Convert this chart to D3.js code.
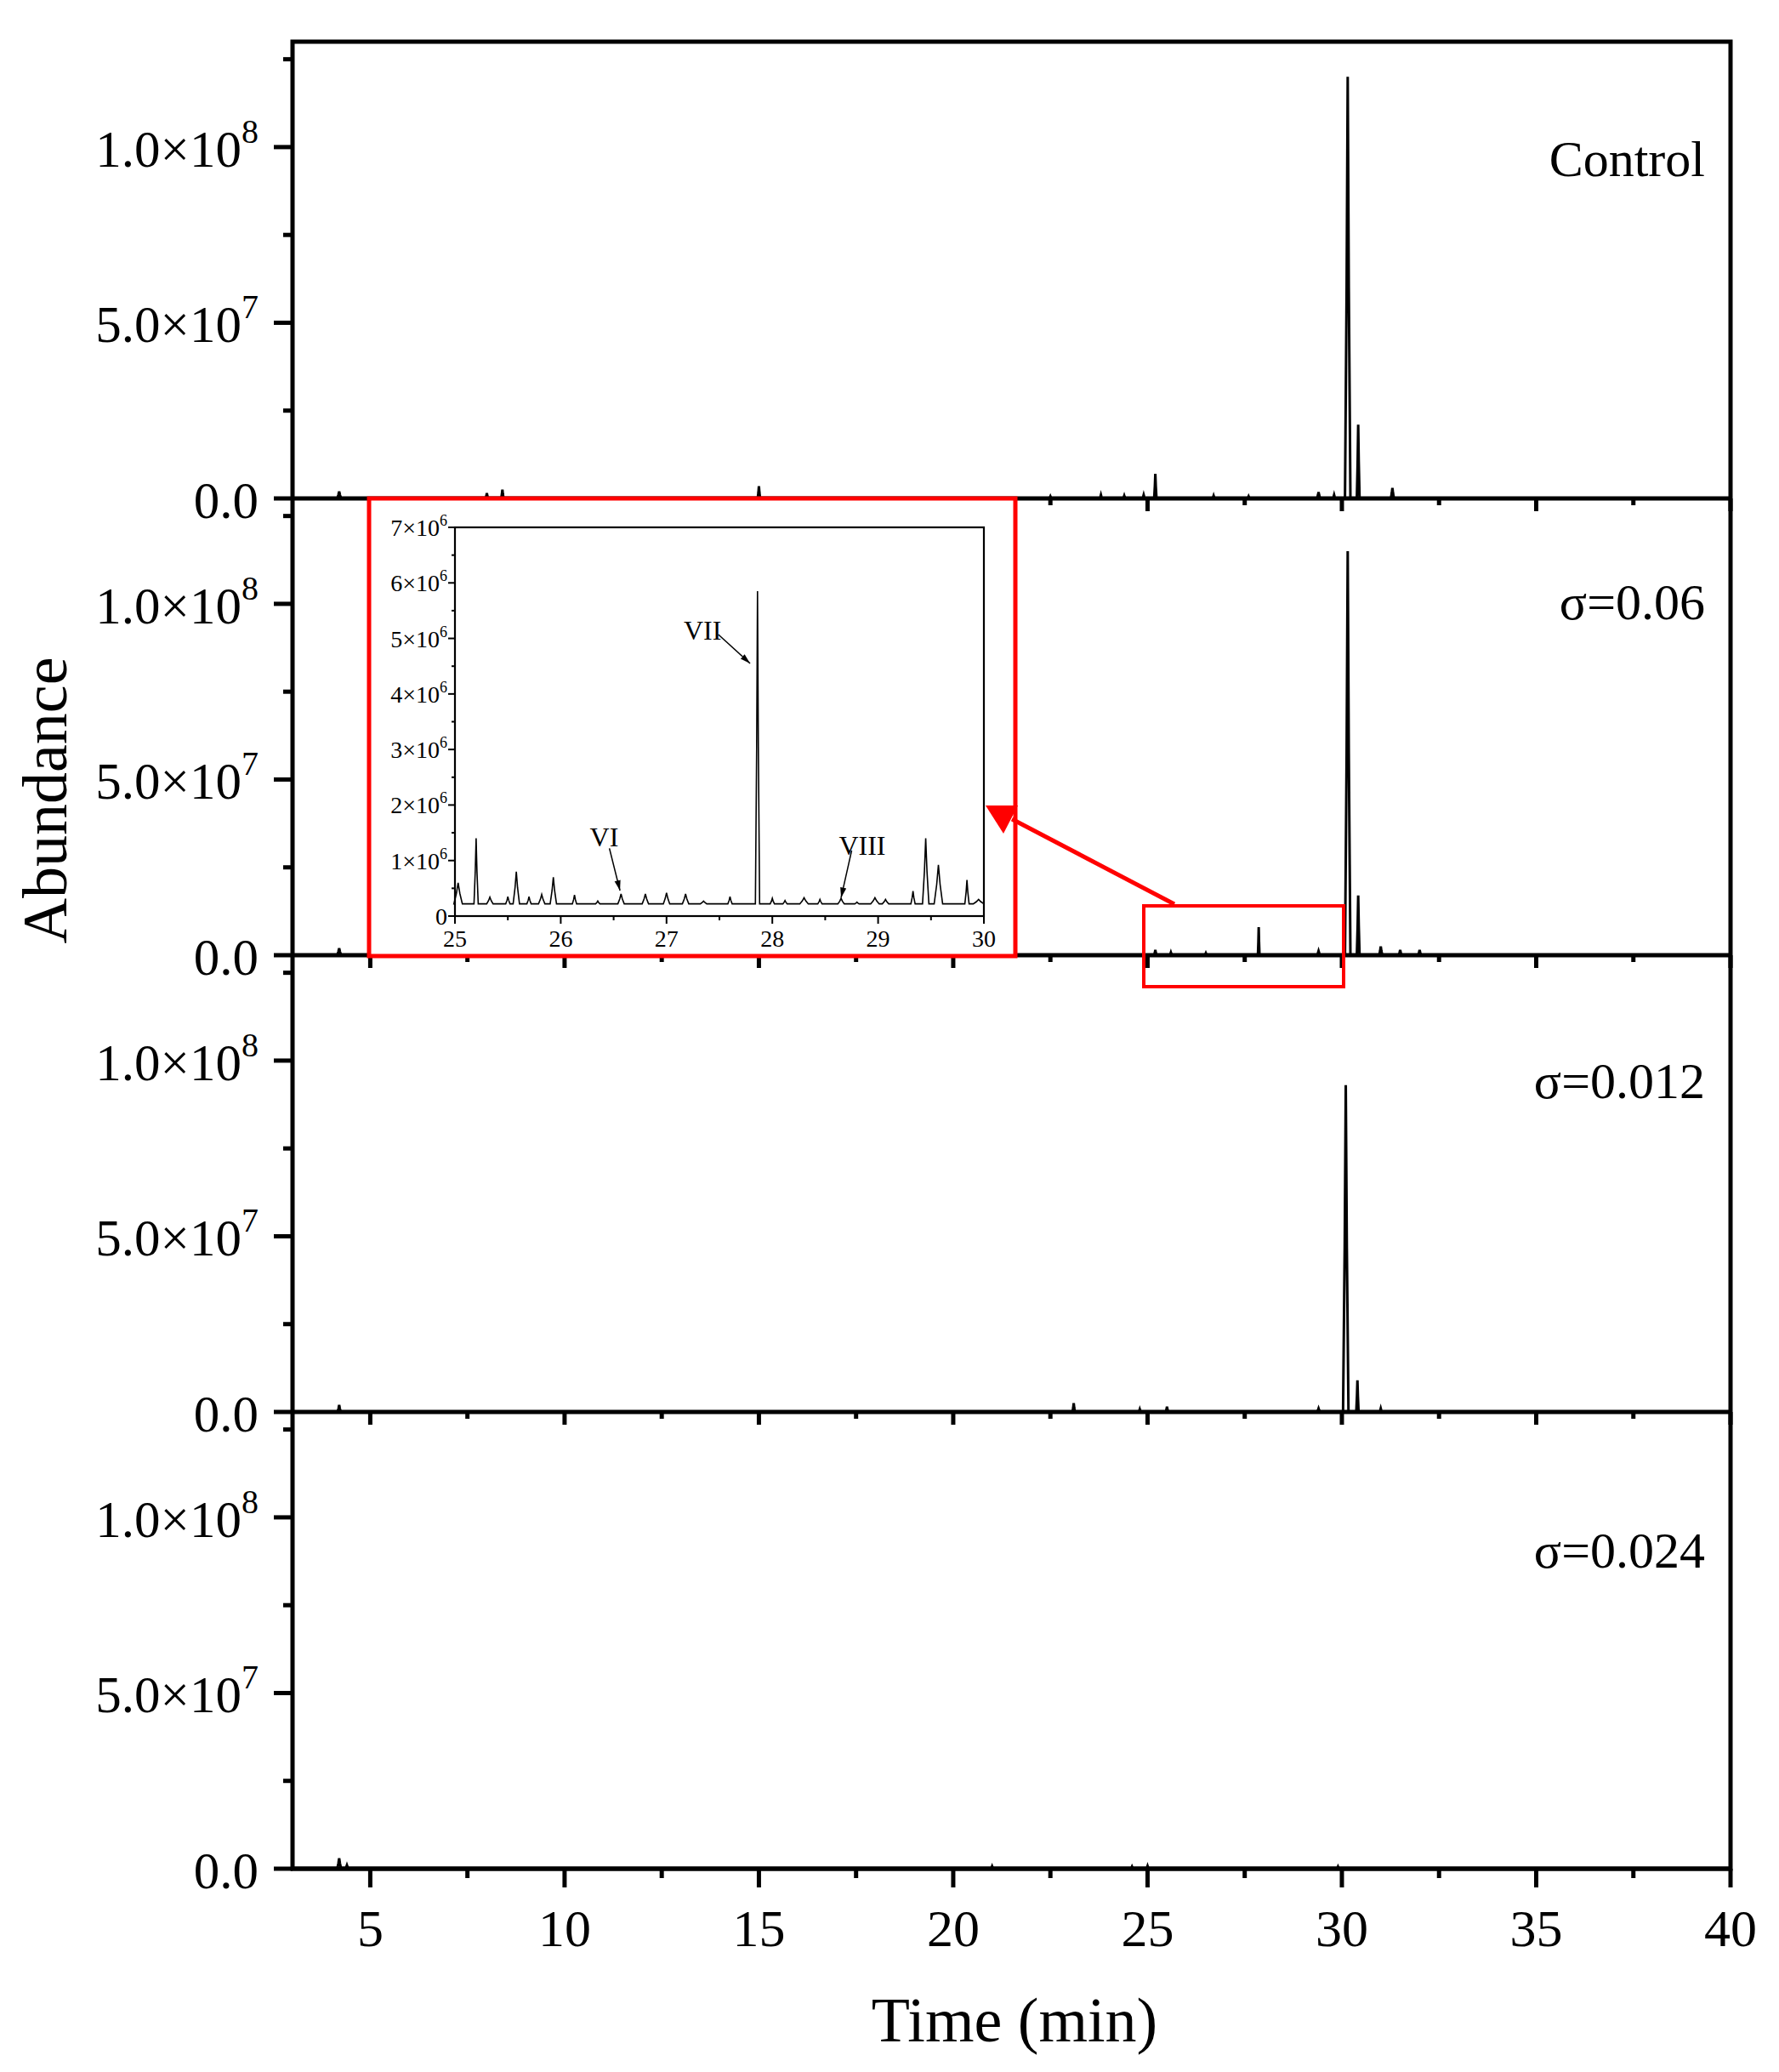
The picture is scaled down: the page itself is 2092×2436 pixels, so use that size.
<!DOCTYPE html>
<html><head><meta charset="utf-8">
<script src="https://cdn.jsdelivr.net/npm/d3@7"></script>
<style>body{margin:0;background:#fff}text{font-family:"Liberation Serif","Times New Roman",serif;fill:#000}</style>
</head><body><svg id="c" width="2092" height="2436"></svg>
<script>
// panel labels, top to bottom
var panelNames = ["Control", "σ=0.06", "σ=0.012", "σ=0.024"];
// peaks per panel: [time (min), height, half width (min)]
var peaksControl = [[4.2,2e6,0.05],[8.0,1.5e6,0.03],[8.4,2.5e6,0.03],[15.0,3.5e6,0.03],[22.5,0.6e6,0.03],[23.8,1e6,0.03],[24.4,0.8e6,0.03],[24.9,1e6,0.03],[25.2,7e6,0.03],[26.7,0.8e6,0.03],[27.6,0.6e6,0.03],[29.4,1.8e6,0.04],[29.8,1e6,0.03],[30.15,1.2e8,0.07],[30.42,2.1e7,0.035],[31.3,3e6,0.04]];
var peaksS006 = [[4.2,2e6,0.05],[5.6,0.6e6,0.03],[6.8,0.5e6,0.03],[25.2,1.5e6,0.03],[25.6,0.8e6,0.03],[26.5,0.6e6,0.03],[27.86,8e6,0.02],[29.4,1.2e6,0.04],[30.15,1.15e8,0.07],[30.42,1.7e7,0.035],[31.0,2.5e6,0.04],[31.5,1.5e6,0.04],[32.0,1.5e6,0.04]];
var peaksS0012 = [[4.2,2e6,0.04],[23.1,2.5e6,0.03],[24.8,0.8e6,0.03],[25.5,1.5e6,0.03],[29.4,1e6,0.04],[30.1,9.3e7,0.07],[30.4,9e6,0.03],[31.0,1e6,0.03]];
var peaksS0024 = [[4.2,3e6,0.05],[4.4,1e6,0.04],[21.0,0.7e6,0.03],[24.6,0.6e6,0.03],[25.0,0.8e6,0.03],[29.9,0.6e6,0.03]];
var allPeaks = [peaksControl, peaksS006, peaksS0012, peaksS0024];
var xTicks = [5, 10, 15, 20, 25, 30, 35, 40];
var yTicks = [0, 5e7, 1e8];
var yTickLabels = [["0.0",""], ["5.0×10","7"], ["1.0×10","8"]];
// inset (σ=0.06, 25–30 min): [time, height, half width]
var insetBase = 0.22e6;
var insetPeaks = [[25.03,0.38e6,0.04],[25.2,1.18e6,0.02],[25.33,0.12e6,0.03],[25.5,0.13e6,0.02],[25.58,0.58e6,0.03],[25.7,0.13e6,0.02],[25.82,0.17e6,0.03],[25.93,0.48e6,0.03],[26.13,0.16e6,0.02],[26.35,0.05e6,0.02],[26.57,0.18e6,0.03],[26.8,0.18e6,0.03],[27.0,0.2e6,0.03],[27.18,0.18e6,0.03],[27.35,0.05e6,0.03],[27.6,0.13e6,0.02],[27.86,5.63e6,0.02],[28.0,0.1e6,0.02],[28.12,0.06e6,0.02],[28.3,0.11e6,0.04],[28.45,0.08e6,0.02],[28.65,0.1e6,0.03],[28.8,0.03e6,0.02],[28.97,0.11e6,0.04],[29.07,0.08e6,0.03],[29.33,0.23e6,0.02],[29.45,1.18e6,0.03],[29.57,0.7e6,0.04],[29.84,0.43e6,0.02],[29.95,0.08e6,0.05]];
var insetLabels = [{t:"VI",x:26.41,y:1.26e6,tx:26.46,ty:1.22e6,hx:26.56,hy:0.46e6},
  {t:"VII",x:27.34,y:4.98e6,tx:27.49,ty:5.07e6,hx:27.79,hy:4.55e6},
  {t:"VIII",x:28.85,y:1.1e6,tx:28.75,ty:1.18e6,hx:28.65,hy:0.33e6}];

var svg = d3.select("#c");
var L = 344, R = 2035, T = 49, PH = 537;
var x = d3.scaleLinear().domain([3, 40]).range([L, R]);

function trace(peaks, base, x0, x1) {
  var pts = [[x0, base]];
  peaks.forEach(function (p) {
    pts.push([p[0] - p[2], base], [p[0] - p[2] * 0.4, base + p[1] * 0.5], [p[0], base + p[1]], [p[0] + p[2] * 0.4, base + p[1] * 0.5], [p[0] + p[2], base]);
  });
  pts.push([x1, base]);
  return pts;
}

var defs = svg.append("defs");
defs.append("marker").attr("id", "ah").attr("viewBox", "0 0 10 10").attr("refX", 10).attr("refY", 5)
  .attr("markerWidth", 8).attr("markerHeight", 8).attr("orient", "auto")
  .append("path").attr("d", "M0,2L10,5L0,8z").attr("fill", "#000");

allPeaks.forEach(function (peaks, i) {
  var top = T + i * PH, bot = top + PH;
  var y = d3.scaleLinear().domain([0, 1.3e8]).range([bot, top]);
  var line = d3.line().x(function (d) { return x(d[0]); }).y(function (d) { return y(d[1]); });
  svg.append("path").attr("d", line(trace(peaks, 0, 4.0, 33))).attr("fill", "none").attr("stroke", "#000").attr("stroke-width", 3);
  // y ticks
  d3.range(0, 1.26e8, 2.5e7).forEach(function (v, k) {
    var major = k % 2 == 0;
    svg.append("line").attr("x1", L).attr("x2", L - (major ? 22 : 11)).attr("y1", y(v)).attr("y2", y(v)).attr("stroke", "#000").attr("stroke-width", 5);
  });
  yTicks.forEach(function (v, k) {
    var t = svg.append("text").attr("x", 304).attr("y", y(v) + 23).attr("text-anchor", "end").attr("font-size", 61);
    t.append("tspan").text(yTickLabels[k][0]);
    if (yTickLabels[k][1]) t.append("tspan").attr("font-size", 40).attr("dy", -28).text(yTickLabels[k][1]);
  });
  // x ticks below baseline
  d3.range(5, 40.1, 2.5).forEach(function (v, k) {
    var major = k % 2 == 0;
    var len = i == 3 ? (major ? 22 : 11) : (major ? 15 : 8);
    svg.append("line").attr("x1", x(v)).attr("x2", x(v)).attr("y1", bot).attr("y2", bot + len).attr("stroke", "#000").attr("stroke-width", 5);
  });
  svg.append("line").attr("x1", L - 2).attr("x2", R + 2).attr("y1", bot).attr("y2", bot).attr("stroke", "#000").attr("stroke-width", 5);
  var ly = [207, 728, 1291, 1843][i];
  svg.append("text").attr("x", 2005).attr("y", ly).attr("text-anchor", "end").attr("font-size", 60).text(panelNames[i]);
});
svg.append("rect").attr("x", L).attr("y", T).attr("width", R - L).attr("height", 4 * PH).attr("fill", "none").attr("stroke", "#000").attr("stroke-width", 5);

xTicks.forEach(function (v) {
  svg.append("text").attr("x", x(v)).attr("y", 2288).attr("text-anchor", "middle").attr("font-size", 62).text(v);
});
svg.append("text").attr("x", 1193).attr("y", 2400).attr("text-anchor", "middle").attr("font-size", 74).text("Time (min)");
svg.append("text").attr("transform", "translate(78,941) rotate(-90)").attr("text-anchor", "middle").attr("font-size", 74).text("Abundance");

// inset
svg.append("rect").attr("x", 434).attr("y", 586).attr("width", 760).attr("height", 538).attr("fill", "#fff").attr("stroke", "#f00").attr("stroke-width", 5);
var ix = d3.scaleLinear().domain([25, 30]).range([535, 1157]);
var iy = d3.scaleLinear().domain([0, 7e6]).range([1077, 620]);
var il = d3.line().x(function (d) { return ix(d[0]); }).y(function (d) { return iy(d[1]); });
svg.append("path").attr("d", il(trace(insetPeaks, insetBase, 25, 30))).attr("fill", "none").attr("stroke", "#000").attr("stroke-width", 1.6);
svg.append("rect").attr("x", 535).attr("y", 620).attr("width", 622).attr("height", 457).attr("fill", "none").attr("stroke", "#000").attr("stroke-width", 2.2);
d3.range(0, 7.01e6, 0.5e6).forEach(function (v, k) {
  svg.append("line").attr("x1", 535).attr("x2", 535 - (k % 2 ? 4 : 8)).attr("y1", iy(v)).attr("y2", iy(v)).attr("stroke", "#000").attr("stroke-width", 2);
  if (k % 2 == 0) {
    var t = svg.append("text").attr("x", 526).attr("y", iy(v) + 10).attr("text-anchor", "end").attr("font-size", 28);
    if (v == 0) t.text("0");
    else { t.append("tspan").text((v / 1e6) + "×10"); t.append("tspan").attr("font-size", 18).attr("dy", -12).text("6"); }
  }
});
d3.range(25, 30.01, 0.5).forEach(function (v, k) {
  svg.append("line").attr("x1", ix(v)).attr("x2", ix(v)).attr("y1", 1077).attr("y2", 1077 + (k % 2 ? 5 : 9)).attr("stroke", "#000").attr("stroke-width", 2);
  if (k % 2 == 0) svg.append("text").attr("x", ix(v)).attr("y", 1113).attr("text-anchor", "middle").attr("font-size", 28).text(v);
});
insetLabels.forEach(function (d) {
  svg.append("text").attr("x", ix(d.x)).attr("y", iy(d.y)).attr("text-anchor", "middle").attr("font-size", 32).text(d.t);
  svg.append("line").attr("x1", ix(d.tx)).attr("y1", iy(d.ty)).attr("x2", ix(d.hx)).attr("y2", iy(d.hy))
    .attr("stroke", "#000").attr("stroke-width", 1.5).attr("marker-end", "url(#ah)");
});

// zoom box + red arrow
svg.append("rect").attr("x", 1345).attr("y", 1065).attr("width", 235).attr("height", 95).attr("fill", "none").attr("stroke", "#f00").attr("stroke-width", 4);
svg.append("line").attr("x1", 1381).attr("y1", 1063).attr("x2", 1190).attr("y2", 963).attr("stroke", "#f00").attr("stroke-width", 5);
svg.append("path").attr("d", "M1159,947L1197,947L1180,980z").attr("fill", "#f00");
</script></body></html>
